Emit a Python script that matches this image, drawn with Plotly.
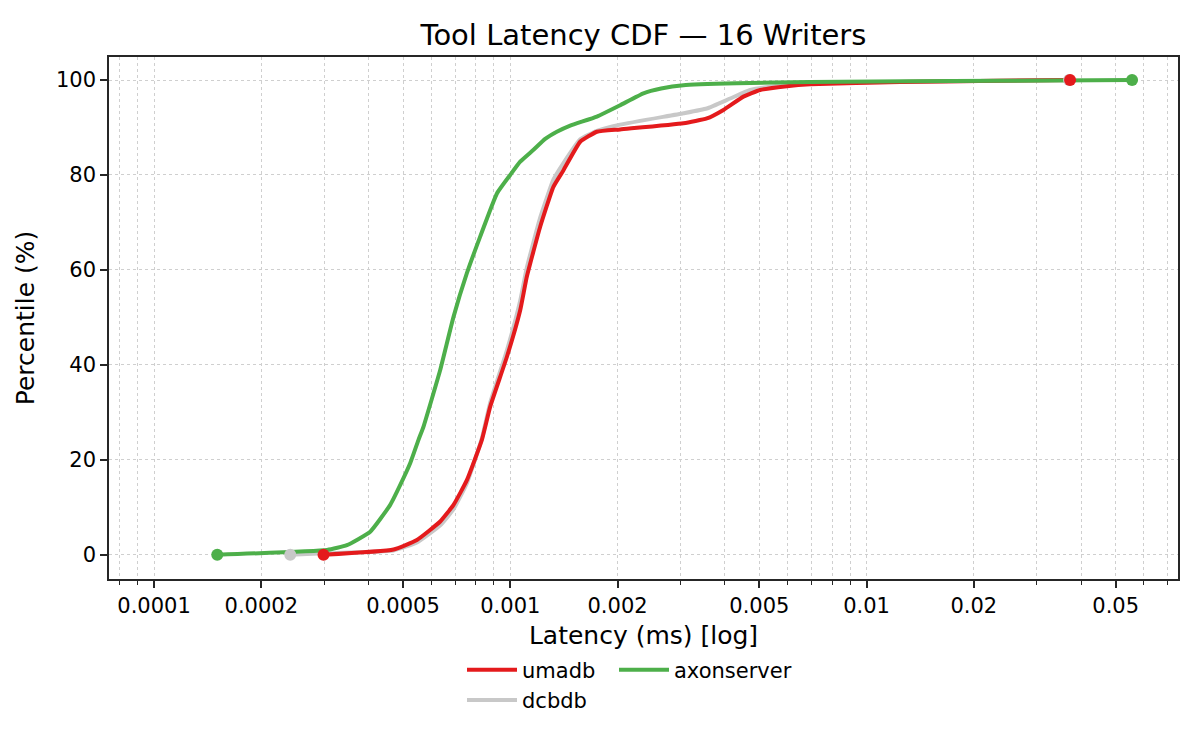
import plotly.graph_objects as go

# ---- data (latency in ms, percentile in %) ----
umadb_x = [0.0002991, 0.0004703, 0.0005468, 0.0006357, 0.0006928, 0.0007553, 0.0008322,
           0.0008783, 0.0009784, 0.001066, 0.001113, 0.001213, 0.001321, 0.001410, 0.001571,
           0.001750, 0.002034, 0.003062, 0.003561, 0.003965, 0.004511, 0.005026, 0.005972,
           0.006942, 0.01242, 0.03724]
umadb_y = [0, 1.1, 3.1, 7.0, 10.5, 15.7, 24.2, 31.2, 41.7, 51.5, 58.6, 69.1, 77.5, 81.0, 87.0,
           89.1, 89.6, 90.9, 91.9, 93.7, 96.5, 97.9, 98.7, 99.1, 99.6, 100]

dcbdb_x = [0.0002412, 0.0003, 0.00047, 0.000547, 0.000636, 0.000693, 0.000755, 0.000832,
           0.000878, 0.000978, 0.001066, 0.001113, 0.001213, 0.001321, 0.001410, 0.001571,
           0.001750, 0.002034, 0.003062, 0.00356, 0.00414, 0.00471, 0.00536, 0.0070, 0.0124,
           0.0370]
dcbdb_y = [0, 0.3, 0.9, 2.6, 6.2, 9.6, 15.0, 24.5, 32.0, 43.0, 53.5, 60.5, 71.0, 79.0, 82.5,
           87.5, 89.3, 90.6, 93.0, 94.0, 96.1, 97.9, 98.6, 99.3, 99.6, 100]

axon_x = [0.0001505, 0.000306, 0.0003478, 0.0004045, 0.0004603, 0.0004911, 0.0005239,
          0.0005525, 0.0005708, 0.0006357, 0.0006928, 0.0007553, 0.0008231, 0.0009173,
          0.0009993, 0.001066, 0.001162, 0.001253, 0.001351, 0.001473, 0.001750, 0.002034,
          0.002364, 0.002650, 0.003062, 0.004323, 0.006942, 0.02369, 0.0556]
axon_y = [0, 1.0, 2.0, 4.85, 10.5, 14.7, 19.3, 24.2, 27.0, 38.9, 50.1, 59.3, 67.0, 76.1,
          80.0, 82.8, 85.3, 87.6, 89.1, 90.4, 92.3, 94.7, 97.2, 98.2, 98.9, 99.3, 99.6, 99.85,
          100]

x_tick_vals = [0.0001, 0.0002, 0.0005, 0.001, 0.002, 0.005, 0.01, 0.02, 0.05]
x_tick_text = ["0.0001", "0.0002", "0.0005", "0.001", "0.002", "0.005", "0.01", "0.02", "0.05"]
y_tick_vals = [0, 20, 40, 60, 80, 100]

RED = "#e41a1c"
GREY = "#c8c8c8"
GREEN = "#4daf4a"
FONT = "DejaVu Sans"

minor_vals = []
for e in range(-5, -1):
    for k in range(1, 10):
        v = round(k * 10 ** e, 10)
        if not any(abs(v - t) < 1e-12 for t in x_tick_vals):
            minor_vals.append(v)

series = [
    ("dcbdb", dcbdb_x, dcbdb_y, GREY, "legend", 2),
    ("umadb", umadb_x, umadb_y, RED, "legend", 1),
    ("axonserver", axon_x, axon_y, GREEN, "legend2", 1),
]

fig = go.Figure()
for name, xs, ys, color, leg, rank in series:
    fig.add_trace(go.Scatter(
        x=xs, y=ys, name=name, mode="lines",
        line=dict(color=color, width=4, shape="spline", smoothing=0.4),
        legend=leg, legendrank=rank,
    ))
for name, xs, ys, color, leg, rank in series:
    fig.add_trace(go.Scatter(
        x=[xs[0], xs[-1]], y=[ys[0], ys[-1]], mode="markers",
        marker=dict(color=color, size=12, opacity=1, line=dict(width=0)),
        showlegend=False, hoverinfo="skip",
    ))

grid_col = "#cfcfcf"
fig.update_layout(
    width=1200, height=750,
    paper_bgcolor="white", plot_bgcolor="white",
    font=dict(family=FONT, size=21, color="black"),
    margin=dict(l=101, r=30, t=49, b=179, autoexpand=False),
    title=dict(text="Tool Latency CDF — 16 Writers", x=(101 + 1170) / 2 / 1200,
               xanchor="center", y=1 - 27 / 750, yanchor="middle",
               font=dict(size=29, family=FONT)),
    xaxis=dict(
        type="log", range=[-4.1263, -1.126], automargin=False,
        tickvals=x_tick_vals, ticktext=x_tick_text,
        ticks="outside", ticklen=7, tickwidth=1.5, tickcolor="#262626",
        showline=True, mirror=True, linecolor="#262626", linewidth=1.5,
        showgrid=True, gridcolor=grid_col, griddash="dot", gridwidth=1,
        zeroline=False,
        minor=dict(tickvals=minor_vals, ticks="outside", ticklen=4, tickwidth=1.2,
                   tickcolor="#262626", showgrid=True, gridcolor=grid_col,
                   griddash="dot", gridwidth=1),
        title=dict(text="Latency (ms) [log]", font=dict(size=25, family=FONT), standoff=10),
        tickfont=dict(size=21),
    ),
    yaxis=dict(
        range=[-5.12, 104.85], automargin=False,
        tickvals=y_tick_vals,
        ticks="outside", ticklen=7, tickwidth=1.5, tickcolor="#262626",
        showline=True, mirror=True, linecolor="#262626", linewidth=1.5,
        showgrid=True, gridcolor=grid_col, griddash="dot", gridwidth=1,
        zeroline=False,
        title=dict(text="Percentile (%)", font=dict(size=25, family=FONT), standoff=14),
        tickfont=dict(size=21),
    ),
    legend=dict(
        x=(462 - 109) / 1069, xanchor="left", y=-0.1353, yanchor="top",
        orientation="v", bgcolor="rgba(0,0,0,0)", font=dict(size=21, family=FONT),
        tracegroupgap=0, itemwidth=50,
    ),
    legend2=dict(
        x=(614 - 109) / 1069, xanchor="left", y=-0.1353, yanchor="top",
        orientation="v", bgcolor="rgba(0,0,0,0)", font=dict(size=21, family=FONT),
        itemwidth=50,
    ),
    showlegend=True,
)

fig.write_html("out.html")
